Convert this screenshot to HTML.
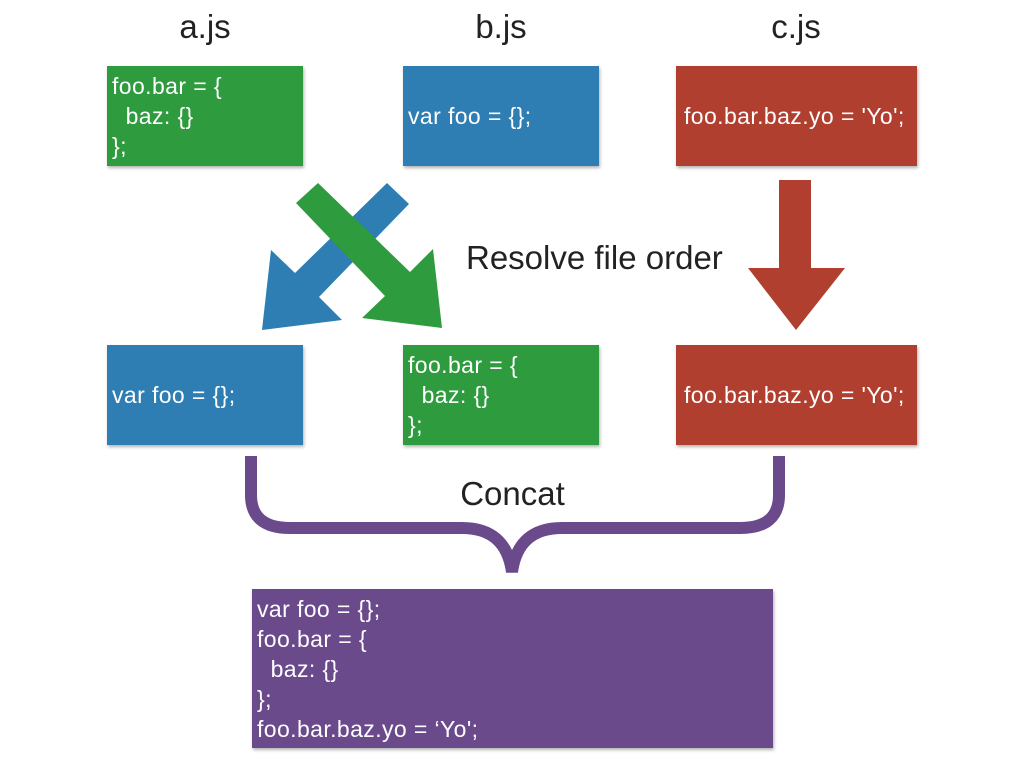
<!DOCTYPE html>
<html><head><style>
body{margin:0;width:1024px;height:768px;background:#fff;position:relative;overflow:hidden;font-family:"Liberation Sans",sans-serif}
.t{position:absolute;font-size:33px;color:#222;text-align:center}
.b{position:absolute;color:#fff;font-size:23px;letter-spacing:0.4px;line-height:30px;box-shadow:1px 2px 3px rgba(0,0,0,.3);display:flex;align-items:center;white-space:pre;padding-left:5px;box-sizing:border-box}
.g{background:#2f9b3f}.bl{background:#2e7db3}.r{background:#b13f30}.p{background:#6b4a8c}
</style></head><body>
<div class="t" style="left:155px;top:8px;width:100px">a.js</div>
<div class="t" style="left:451px;top:8px;width:100px">b.js</div>
<div class="t" style="left:746px;top:8px;width:100px">c.js</div>
<div class="b g" style="left:107px;top:66px;width:196px;height:100px">foo.bar = {
  baz: {}
};</div>
<div class="b bl" style="left:403px;top:66px;width:196px;height:100px">var foo = {};</div>
<div class="b r" style="left:676px;top:66px;width:241px;height:100px;padding-left:8px">foo.bar.baz.yo = 'Yo';</div>
<div class="b bl" style="left:107px;top:345px;width:196px;height:100px">var foo = {};</div>
<div class="b g" style="left:403px;top:345px;width:196px;height:100px">foo.bar = {
  baz: {}
};</div>
<div class="b r" style="left:676px;top:345px;width:241px;height:100px;padding-left:8px">foo.bar.baz.yo = 'Yo';</div>
<div class="t" style="left:466px;top:239px;width:270px;text-align:left">Resolve file order</div>
<div class="t" style="left:440px;top:475px;width:145px">Concat</div>
<svg width="1024" height="768" style="position:absolute;left:0;top:0">
<polygon points="387,183 409,204 319,297 342,320 262,330 271,250 295,273" fill="#2e7db3"/>
<polygon points="318,183 410,272 433,249 442,328 362,318 385,296 296,203" fill="#2f9b3f"/>
<polygon points="779,180 811,180 811,268 845,268 796,330 748,268 779,268" fill="#b13f30"/>
<path d="M251,456 V495 Q251,528 290,528 H462 Q506,528 512,572 Q518,528 562,528 H740 Q779,528 779,495 V456" fill="none" stroke="#6b4a8c" stroke-width="12"/>
</svg>
<div class="b p" style="left:252px;top:589px;width:521px;height:159px;align-items:center">var foo = {};
foo.bar = {
  baz: {}
};
foo.bar.baz.yo = ‘Yo';</div>
</body></html>
